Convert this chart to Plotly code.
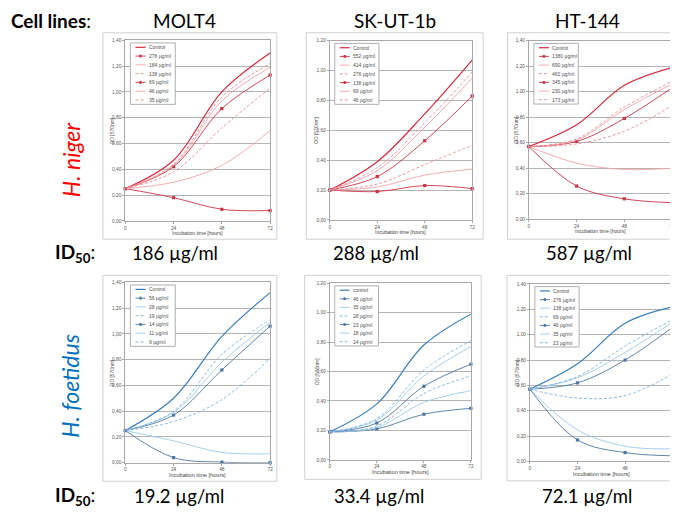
import plotly.graph_objects as go

# page body has an 8px margin; figure fills the rest of the 678x514 window
OFF = 8
W, H = 678 - OFF, 514 - OFF
hours = [0, 24, 48, 72]

# ---------------- data ----------------
niger_molt4_labels = ["Control", "276 µg/ml", "184 µg/ml", "138 µg/ml", "69 µg/ml", "46 µg/ml", "35 µg/ml"]
niger_molt4_values = [
    [0.25, 0.47, 1.00, 1.30],
    [0.25, 0.18, 0.09, 0.08],
    [0.25, 0.30, 0.43, 0.70],
    [0.25, 0.38, 0.72, 1.03],
    [0.25, 0.42, 0.87, 1.13],
    [0.25, 0.43, 0.93, 1.19],
    [0.25, 0.44, 0.96, 1.22],
]

niger_skut_labels = ["Control", "552 µg/ml", "414 µg/ml", "276 µg/ml", "138 µg/ml", "69 µg/ml", "46 µg/ml"]
niger_skut_values = [
    [0.20, 0.39, 0.71, 1.07],
    [0.20, 0.19, 0.23, 0.21],
    [0.20, 0.22, 0.30, 0.34],
    [0.20, 0.24, 0.37, 0.50],
    [0.20, 0.29, 0.53, 0.83],
    [0.20, 0.33, 0.62, 0.95],
    [0.20, 0.35, 0.65, 0.99],
]

niger_ht_labels = ["Control", "1380 µg/ml", "690 µg/ml", "460 µg/ml", "345 µg/ml", "230 µg/ml", "173 µg/ml"]
niger_ht_values = [
    [0.57, 0.74, 1.05, 1.19],
    [0.57, 0.26, 0.16, 0.13],
    [0.57, 0.44, 0.39, 0.40],
    [0.57, 0.59, 0.69, 0.89],
    [0.57, 0.61, 0.79, 1.03],
    [0.57, 0.62, 0.86, 1.06],
    [0.57, 0.63, 0.88, 1.08],
]

foet_molt4_labels = ["Control", "56 µg/ml", "28 µg/ml", "19 µg/ml", "14 µg/ml", "11 µg/ml", "9 µg/ml"]
foet_molt4_values = [
    [0.25, 0.50, 0.98, 1.32],
    [0.25, 0.04, 0.005, 0.00],
    [0.25, 0.17, 0.08, 0.07],
    [0.25, 0.32, 0.49, 0.81],
    [0.25, 0.37, 0.72, 1.06],
    [0.25, 0.39, 0.78, 1.09],
    [0.25, 0.40, 0.84, 1.11],
]

foet_skut_labels = ["control", "46 µg/ml", "35 µg/ml", "28 µg/ml", "23 µg/ml", "18 µg/ml", "14 µg/ml"]
foet_skut_values = [
    [0.19, 0.38, 0.78, 0.99],
    [0.19, 0.21, 0.31, 0.35],
    [0.19, 0.22, 0.39, 0.47],
    [0.19, 0.23, 0.45, 0.57],
    [0.19, 0.25, 0.50, 0.65],
    [0.19, 0.27, 0.57, 0.77],
    [0.19, 0.28, 0.61, 0.81],
]

foet_ht_labels = ["Control", "276 µg/ml", "138 µg/ml", "69 µg/ml", "46 µg/ml", "35 µg/ml", "23 µg/ml"]
foet_ht_values = [
    [0.57, 0.77, 1.09, 1.22],
    [0.57, 0.17, 0.07, 0.045],
    [0.57, 0.25, 0.12, 0.10],
    [0.57, 0.50, 0.52, 0.69],
    [0.57, 0.62, 0.80, 1.06],
    [0.57, 0.66, 0.86, 1.10],
    [0.57, 0.67, 0.91, 1.12],
]

cell_lines = ["MOLT4", "SK-UT-1b", "HT-144"]
species = ["H. niger", "H. foetidus"]
id50_niger = ["186 µg/ml", "288 µg/ml", "587 µg/ml"]
id50_foet = ["19.2 µg/ml", "33.4 µg/ml", "72.1 µg/ml"]

# ---------------- styles / layout config ----------------
red_style = dict(control="#d42a3c", marker="#cc3344", light="#f3a3a8", dash="#ec8890")
blue_style = dict(control="#3a7dbd", marker="#4f77a3", light="#9ccbeb", dash="#7ab2de")
kinds = ["control", "marker", "light", "dash", "marker", "light", "dash"]

panels = [
    dict(labels=niger_molt4_labels, values=niger_molt4_values, ymax=1.4,
         box=(125, 38.5, 270.7, 221), frame=(102.5, 31, 277.5, 239.5), style=red_style),
    dict(labels=niger_skut_labels, values=niger_skut_values, ymax=1.2,
         box=(330.7, 39, 474, 220), frame=(307, 31, 485, 239.5), style=red_style),
    dict(labels=niger_ht_labels, values=niger_ht_values, ymax=1.4,
         box=(531, 39, 675, 219.3), frame=(509.5, 31, 679, 239.5), style=red_style),
    dict(labels=foet_molt4_labels, values=foet_molt4_values, ymax=1.4,
         box=(125, 283, 270.7, 465.3), frame=(102.5, 276, 277.5, 484), style=blue_style),
    dict(labels=foet_skut_labels, values=foet_skut_values, ymax=1.2,
         box=(330.7, 284, 472.7, 462.3), frame=(305.5, 276, 483, 482), style=blue_style),
    dict(labels=foet_ht_labels, values=foet_ht_values, ymax=1.4,
         box=(532, 284.7, 675.7, 464), frame=(509, 276, 679, 483.5), style=blue_style),
]


def PX(x):
    return (x - OFF) / W


def PY(y):
    return 1 - (y - OFF) / H


fig = go.Figure()
shapes = []
annotations = []

tick_font = dict(family="Liberation Sans", size=4.8, color="#555555")
small_font = dict(family="Liberation Sans", size=5, color="#505050")

for k, p in enumerate(panels):
    n = k + 1
    xa = "x" if n == 1 else f"x{n}"
    ya = "y" if n == 1 else f"y{n}"
    x0, y0, x1, y1 = p["box"]
    st = p["style"]
    for i, (lab, vals) in enumerate(zip(p["labels"], p["values"])):
        kind = kinds[i]
        color = st[kind]
        line = dict(color=color, width=1.2 if kind == "control" else 0.9, shape="spline", smoothing=1.0)
        if kind == "dash":
            line["dash"] = "3px,2px"
        fig.add_trace(go.Scatter(
            x=hours, y=vals, name=lab, xaxis=xa, yaxis=ya, showlegend=False,
            mode="lines+markers" if kind == "marker" else "lines",
            line=line, cliponaxis=False,
            marker=dict(symbol="square", size=3.2, color=color)))

    axis_common = dict(showline=True, mirror=True, linecolor="#a8a8a8", linewidth=0.8,
                       tickfont=tick_font, ticks="outside", ticklen=2, tickcolor="#a8a8a8",
                       zeroline=False, fixedrange=True)
    fig.layout[f"xaxis{'' if n == 1 else n}"] = dict(
        domain=[PX(x0), min(PX(x1), 1.0)], anchor=ya, range=[0, 72], tickvals=hours,
        showgrid=False, **axis_common)
    fig.layout[f"yaxis{'' if n == 1 else n}"] = dict(
        domain=[PY(y1), PY(y0)], anchor=xa, range=[0, p["ymax"]], dtick=0.2,
        tickformat=".2f", showgrid=True, gridcolor="#b4b4b4", gridwidth=0.8, **axis_common)

    # outer chart frame
    fx0, fy0, fx1, fy1 = p["frame"]
    shapes.append(dict(type="rect", xref="paper", yref="paper", x0=PX(fx0), x1=PX(fx1),
                       y0=PY(fy1), y1=PY(fy0), line=dict(color="#cfcfcf", width=1),
                       layer="below"))

    # axis titles
    annotations.append(dict(text="OD [570nm]", xref=f"{xa} domain", yref=f"{ya} domain",
                            x=-0.092, y=0.5, textangle=-90, showarrow=False,
                            font=small_font, xanchor="center", yanchor="middle"))
    annotations.append(dict(text="Incubation time [hours]", xref=f"{xa} domain", yref=f"{ya} domain",
                            x=0.5, y=-0.068, showarrow=False,
                            font=dict(family="Liberation Sans", size=5 if n <= 3 else 5.6,
                                      color="#444444"),
                            xanchor="center", yanchor="middle"))

    # legend box
    lx0, lx1, ly0, ly1 = 0.035, 0.345, 0.645, 0.985
    shapes.append(dict(type="rect", xref=f"{xa} domain", yref=f"{ya} domain",
                       x0=lx0, x1=lx1, y0=ly0, y1=ly1, fillcolor="white",
                       line=dict(color="#9a9a9a", width=0.8), layer="above"))
    step = (ly1 - ly0) / 7
    for i, lab in enumerate(p["labels"]):
        kind = kinds[i]
        color = st[kind]
        yc = ly1 - (i + 0.5) * step
        ln = dict(color=color, width=1.2 if kind == "control" else 0.9)
        if kind == "dash":
            ln["dash"] = "3px,2px"
        shapes.append(dict(type="line", xref=f"{xa} domain", yref=f"{ya} domain",
                           x0=0.07, x1=0.14, y0=yc, y1=yc, line=ln, layer="above"))
        if kind == "marker":
            shapes.append(dict(type="rect", xref=f"{xa} domain", yref=f"{ya} domain",
                               x0=0.097, x1=0.113, y0=yc - 0.008, y1=yc + 0.008,
                               fillcolor=color, line=dict(width=0), layer="above"))
        annotations.append(dict(text=lab, xref=f"{xa} domain", yref=f"{ya} domain",
                                x=0.15, y=yc, showarrow=False, font=small_font,
                                xanchor="left", yanchor="middle"))

# ---------------- big labels ----------------
big = dict(family="Lato", size=19, color="black")
name_font = dict(family="Lato", size=19, color="black")
num_font = dict(family="Lato", size=18.5, color="black")


def pa(x, y, text, font, xanchor="center", textangle=0):
    annotations.append(dict(text=text, xref="paper", yref="paper", x=PX(x), y=PY(y),
                            showarrow=False, font=font, xanchor=xanchor, yanchor="middle",
                            textangle=textangle))


pa(8.5, 19, "<b>Cell lines</b>:", big, xanchor="left")
for cx, name in zip([185, 396, 590], cell_lines):
    pa(cx, 19, name, name_font)

pa(70, 159, f"<i>{species[0]}</i>", dict(family="Lato", size=23, color="#ff0000"), textangle=-90)
pa(70, 388, f"<i>{species[1]}</i>", dict(family="Lato", size=23, color="#0070c0"), textangle=-90)

pa(52, 253, "<b>ID<sub>50</sub></b>:", big, xanchor="left")
for cx, t in zip([175, 377, 591], id50_niger):
    pa(cx, 253, t, num_font)
pa(52, 499, "<b>ID<sub>50</sub></b>:", big, xanchor="left")
for cx, t in zip([179, 380, 589], id50_foet):
    pa(cx, 499, t, num_font)

fig.update_layout(
    width=W, height=H, margin=dict(l=0, r=0, t=0, b=0),
    paper_bgcolor="white", plot_bgcolor="white",
    separators=",.", showlegend=False,
    shapes=shapes, annotations=annotations,
)

fig.write_html("out.html")
